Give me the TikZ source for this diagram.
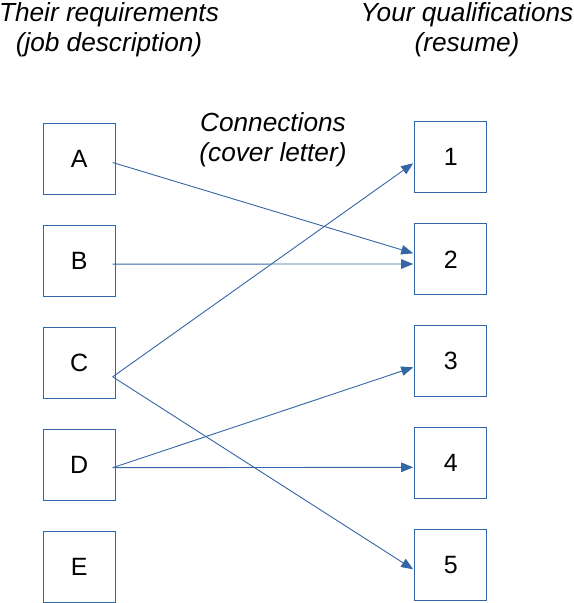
\documentclass[tikz,border=0pt]{standalone}
\usepackage{fontspec}
\setmainfont{Liberation Sans}
\usetikzlibrary{arrows.meta}
\definecolor{lo}{HTML}{3465A4}
\tikzset{
  box/.style={draw=lo,line width=1.2bp,minimum width=72bp,minimum height=71bp,inner sep=0pt,font=\fontsize{25bp}{30bp}\selectfont},
  lbl/.style={align=center,inner sep=0pt,font=\fontsize{26.2bp}{30bp}\selectfont\itshape},
  conn/.style={draw=lo,line width=0.9bp,-{Triangle[length=12bp,width=9.5bp]}}
}
\begin{document}
\begin{tikzpicture}[x=1bp,y=-1bp]
\useasboundingbox (0,0) rectangle (574,603);
\node[lbl] (hl) at (109,29.5) {Their requirements\\(job description)};
\node[lbl] (hr) at (467,29.5) {Your qualifications\\(resume)};
\node[lbl] (hc) at (273,139.5) {Connections\\(cover letter)};
\node[box] (A) at (79.1,159.3) {A};
\node[box] (B) at (79.1,261.3) {B};
\node[box] (C) at (79.1,363.3) {C};
\node[box] (D) at (79.1,465.3) {D};
\node[box] (E) at (79.1,567.3) {E};
\node[box] (n1) at (450.8,157.3) {1};
\node[box] (n2) at (450.8,259.3) {2};
\node[box] (n3) at (450.8,361.3) {3};
\node[box] (n4) at (450.8,463.3) {4};
\node[box] (n5) at (450.8,565.3) {5};
\draw[conn] ([xshift=-3bp,yshift=-3.2bp]A.east) -- ([xshift=-1bp,yshift=6bp]n2.west);
\draw[conn] ([xshift=-3bp,yshift=-2.8bp]B.east) -- ([xshift=-1bp,yshift=-4.7bp]n2.west);
\draw[conn] ([xshift=-3bp,yshift=-13.5bp]C.east) -- ([xshift=-1bp,yshift=-6bp]n1.west);
\draw[conn] ([xshift=-3bp,yshift=-13.5bp]C.east) -- ([xshift=-1bp,yshift=-4bp]n5.west);
\draw[conn] ([xshift=-3bp,yshift=-2.4bp]D.east) -- ([xshift=-1bp,yshift=-6bp]n3.west);
\draw[conn] ([xshift=-3bp,yshift=-2.4bp]D.east) -- ([xshift=-1bp,yshift=-4bp]n4.west);
\end{tikzpicture}
\end{document}
